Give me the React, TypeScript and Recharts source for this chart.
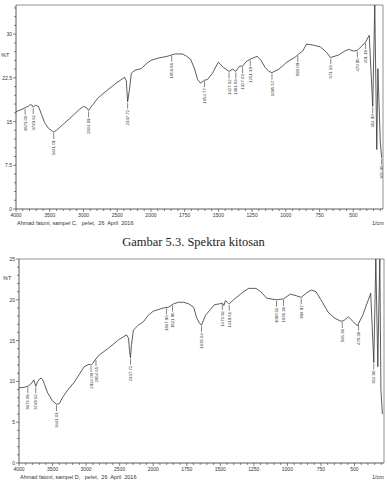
import React from 'react';
import { ComposedChart, Line, Scatter, XAxis, YAxis, ReferenceLine } from 'recharts';

// kitosan (sampel C)
const kitosanWn = [4000, 3910, 3865, 3820, 3790, 3760, 3745, 3712, 3667, 3621, 3576, 3515, 3456, 3441, 3400, 3353, 3206, 3059, 3000, 2955, 2924, 2890, 2848, 2788, 2667, 2515, 2390, 2365, 2345, 2318, 2291, 2237, 2142, 2061, 2000, 1944, 1879, 1823, 1766, 1735, 1706, 1676, 1654, 1632, 1603, 1581, 1544, 1500, 1464, 1421, 1393, 1371, 1343, 1321, 1293, 1264, 1213, 1184, 1154, 1125, 1103, 1051, 993, 934, 904, 875, 846, 794, 743, 699, 670, 610, 564, 534, 500, 470, 440, 410, 382, 356, 341, 326, 318, 300, 290];
const kitosanT = [16.7, 17.1, 17.4, 17.6, 17.9, 17.8, 17.5, 17.8, 17.6, 16.2, 14.8, 13.8, 13.3, 13.2, 13.5, 14.0, 15.5, 17.1, 17.6, 17.4, 16.9, 17.5, 18.1, 19.0, 20.2, 21.6, 22.6, 22.0, 18.4, 20.5, 23.3, 23.8, 24.1, 25.0, 25.5, 25.9, 26.2, 26.6, 26.6, 26.2, 25.7, 24.0, 22.2, 21.6, 22.1, 22.2, 23.3, 25.2, 24.3, 23.6, 24.0, 23.6, 24.5, 24.5, 25.3, 25.7, 26.2, 25.5, 24.3, 23.6, 23.4, 24.0, 25.2, 26.0, 26.6, 27.1, 28.3, 28.1, 27.8, 26.9, 26.0, 26.4, 27.1, 27.4, 27.1, 27.2, 27.9, 28.6, 29.8, 17.6, 35, 10.2, 24.1, 11.5, 8.8];
const kitosanPeakWn = [3865, 3745, 3441, 2924, 2345, 1846, 1603, 1421, 1371, 1321, 1264, 1103, 912, 667, 470, 409, 356, 290];
const kitosanPeakText = ['3873.00', '3749.62', '3441.01', '2924.09', '2337.72', '1850.86', '1654.77', '1427.32', '1381.03', '1327.03', '1251.39', '1095.57', '893.09', '671.33', '470.95', '401.18', '354.90', '302.90'];

// sampel D
const sampelDWn = [4000, 3912, 3868, 3809, 3779, 3750, 3721, 3691, 3670, 3647, 3618, 3574, 3500, 3441, 3397, 3353, 3279, 3176, 3029, 2956, 2926, 2900, 2868, 2809, 2662, 2515, 2397, 2368, 2353, 2338, 2324, 2294, 2221, 2147, 2074, 2000, 1924, 1886, 1848, 1811, 1773, 1735, 1699, 1676, 1654, 1640, 1610, 1574, 1544, 1507, 1485, 1473, 1462, 1439, 1433, 1402, 1326, 1288, 1235, 1199, 1154, 1081, 1029, 978, 934, 897, 860, 824, 787, 750, 697, 652, 606, 586, 576, 545, 508, 478, 439, 379, 356, 341, 326, 318, 311, 303, 292];
const sampelDT = [9.2, 9.3, 9.4, 9.8, 10.2, 9.4, 10.0, 10.3, 10.4, 10.2, 9.6, 8.6, 7.6, 7.2, 7.3, 8.0, 8.9, 9.9, 11.8, 12.1, 12.0, 12.2, 12.6, 13.2, 14.1, 15.1, 15.7, 15.3, 13.8, 12.9, 14.5, 16.3, 16.9, 17.3, 18.1, 18.6, 19.0, 19.1, 19.5, 19.7, 19.7, 19.5, 19.1, 17.8, 17.1, 16.9, 18.1, 18.8, 19.4, 19.5, 19.6, 19.3, 19.9, 19.6, 19.5, 20.0, 21.0, 21.4, 21.4, 21.0, 20.2, 20.0, 20.1, 20.7, 20.5, 20.3, 20.8, 21.2, 21.0, 20.0, 18.5, 17.8, 17.4, 17.4, 17.5, 17.9, 17.3, 16.8, 18.1, 20.8, 12.3, 25, 11.8, 19.5, 25, 9.0, 6.0];
const sampelDPeakWn = [3868, 3750, 3441, 2926, 2853, 2338, 1901, 1856, 1640, 1485, 1433, 1081, 1029, 897, 591, 470, 356];
const sampelDPeakText = ['3873.08', '3749.62', '3441.01', '2924.09', '2854.65', '2337.72', '1867.96', '1821.96', '1635.64', '1473.92', '1419.61', '1080.11', '1035.38', '894.97', '586.38', '478.38', '354.90'];

const xMajorLabels = [4000, 3500, 3000, 2500, 2000, 1750, 1500, 1250, 1000, 750, 500];

// FTIR axis: 4000-2000 drawn at half the density of 2000-400
const toU = (w: number) => (w >= 2000 ? (4000 - w) / 2 : 1000 + (2000 - w));
const fromU = (u: number) => (u <= 1000 ? 4000 - 2 * u : 3000 - u);
const X_END = toU(280);
const xTicks: number[] = [];
for (let u = 0; u <= 2700; u += 50) xTicks.push(u);
const majorU = xMajorLabels.map(toU);

const FONT = '"Liberation Sans", Arial, sans-serif';
const INK = '#333';

const valueAt = (wns: number[], vals: number[], w: number) => {
  for (let i = 0; i < wns.length - 1; i++) {
    if (w <= wns[i] && w >= wns[i + 1]) {
      const t = (wns[i] - w) / (wns[i] - wns[i + 1] || 1);
      return vals[i] + t * (vals[i + 1] - vals[i]);
    }
  }
  return vals[vals.length - 1];
};

const XTick = (props: any) => {
  const { x, y, payload } = props;
  const major = majorU.includes(payload.value);
  return (
    <g>
      <line x1={x} y1={y} x2={x} y2={y + (major ? 3 : 2)} stroke={INK} strokeWidth={0.6} />
      {major && (
        <text x={x} y={y + 8} textAnchor="middle" fontSize={5} fontFamily={FONT} fill={INK}>
          {Math.round(fromU(payload.value))}
        </text>
      )}
    </g>
  );
};

const makeYTick = (step: number) => (props: any) => {
  const { x, y, payload } = props;
  const v = payload.value;
  const major = Math.abs(v / step - Math.round(v / step)) < 1e-6;
  return (
    <g>
      <line x1={x - (major ? 3 : 2)} y1={y} x2={x} y2={y} stroke={INK} strokeWidth={0.6} />
      {major && (
        <text x={x - 4} y={y + 2} textAnchor="end" fontSize={5} fontFamily={FONT} fill={INK}>
          {v % 1 ? v.toFixed(1) : String(v)}
        </text>
      )}
    </g>
  );
};

const PeakMark = (props: any) => {
  const { cx, cy, payload } = props;
  if (cx == null || cy == null) return null;
  return (
    <g>
      <line x1={cx} y1={cy + 1} x2={cx} y2={cy + 7} stroke={INK} strokeWidth={0.6} />
      <text
        transform={`translate(${cx + 1.6},${cy + 8}) rotate(-90)`}
        textAnchor="end"
        fontSize={4.3}
        fontFamily={FONT}
        fill={INK}
      >
        {payload.text}
      </text>
    </g>
  );
};

type SpectrumProps = {
  wn: number[];
  vals: number[];
  peakWn: number[];
  peakText: string[];
  yMax: number;
  yStep: number;
  yMajor: number;
  yAxisWidth: number;
  right: number;
};

const Spectrum = ({ wn, vals, peakWn, peakText, yMax, yStep, yMajor, yAxisWidth, right }: SpectrumProps) => {
  const data = wn.map((w, i) => ({ x: toU(w), y: vals[i] }));
  const peaks = peakWn.map((w, i) => ({ x: toU(w), y: valueAt(wn, vals, w), text: peakText[i] }));
  const yTicks: number[] = [];
  for (let i = 0; i * yStep <= yMax + 1e-6; i++) yTicks.push(+(i * yStep).toFixed(2));
  return (
    <ComposedChart width={387} height={222} data={data} margin={{ top: 5, right, bottom: 0, left: 0 }}>
      <XAxis
        type="number"
        dataKey="x"
        domain={[0, X_END]}
        ticks={xTicks}
        interval={0}
        tickSize={0}
        tickMargin={0}
        tick={<XTick />}
        height={13}
        axisLine={{ stroke: INK, strokeWidth: 0.8 }}
        allowDataOverflow
      />
      <YAxis
        type="number"
        domain={[0, yMax]}
        ticks={yTicks}
        interval={0}
        tickSize={0}
        tickMargin={0}
        tick={makeYTick(yMajor)}
        width={yAxisWidth}
        axisLine={{ stroke: INK, strokeWidth: 0.8 }}
        allowDataOverflow
      />
      <ReferenceLine y={yMax} stroke="#777" strokeWidth={0.8} />
      <ReferenceLine x={X_END} stroke="#777" strokeWidth={0.8} />
      <Line type="linear" dataKey="y" stroke={INK} strokeWidth={0.8} dot={false} isAnimationActive={false} />
      <Scatter data={peaks} dataKey="y" shape={<PeakMark />} isAnimationActive={false} />
    </ComposedChart>
  );
};

const small: React.CSSProperties = {
  position: 'absolute',
  fontFamily: FONT,
  fontSize: 5.5,
  lineHeight: 1,
  color: INK,
  whiteSpace: 'pre',
};

export default function App() {
  return (
    <div style={{ position: 'absolute', left: 0, top: 0, width: 387, height: 484, background: '#fff', overflow: 'hidden' }}>
      <div style={{ position: 'absolute', left: 0, top: 0 }}>
        <Spectrum
          wn={kitosanWn}
          vals={kitosanT}
          peakWn={kitosanPeakWn}
          peakText={kitosanPeakText}
          yMax={35}
          yStep={1.5}
          yMajor={7.5}
          yAxisWidth={16}
          right={4}
        />
      </div>
      <div style={{ ...small, left: 1, top: 53 }}>%T</div>
      <div style={{ ...small, left: 17, top: 221 }}>Ahmad fatoni, sampel C,   pelet,  26  April  2016</div>
      <div style={{ ...small, left: 372, top: 221 }}>1/cm</div>
      <div
        style={{
          position: 'absolute',
          left: 0,
          top: 235,
          width: 387,
          textAlign: 'center',
          fontFamily: '"Liberation Serif", "Times New Roman", serif',
          fontSize: 12.5,
          lineHeight: '15px',
          color: '#222',
        }}
      >
        Gambar 5.3. Spektra kitosan
      </div>
      <div style={{ position: 'absolute', left: 0, top: 254 }}>
        <Spectrum
          wn={sampelDWn}
          vals={sampelDT}
          peakWn={sampelDPeakWn}
          peakText={sampelDPeakText}
          yMax={25}
          yStep={1}
          yMajor={5}
          yAxisWidth={19}
          right={3}
        />
      </div>
      <div style={{ ...small, left: 3, top: 276 }}>%T</div>
      <div style={{ ...small, left: 20, top: 475 }}>Ahmad fatoni, sampel D,   pelet,  26  April  2016</div>
      <div style={{ ...small, left: 372, top: 475 }}>1/cm</div>
    </div>
  );
}
